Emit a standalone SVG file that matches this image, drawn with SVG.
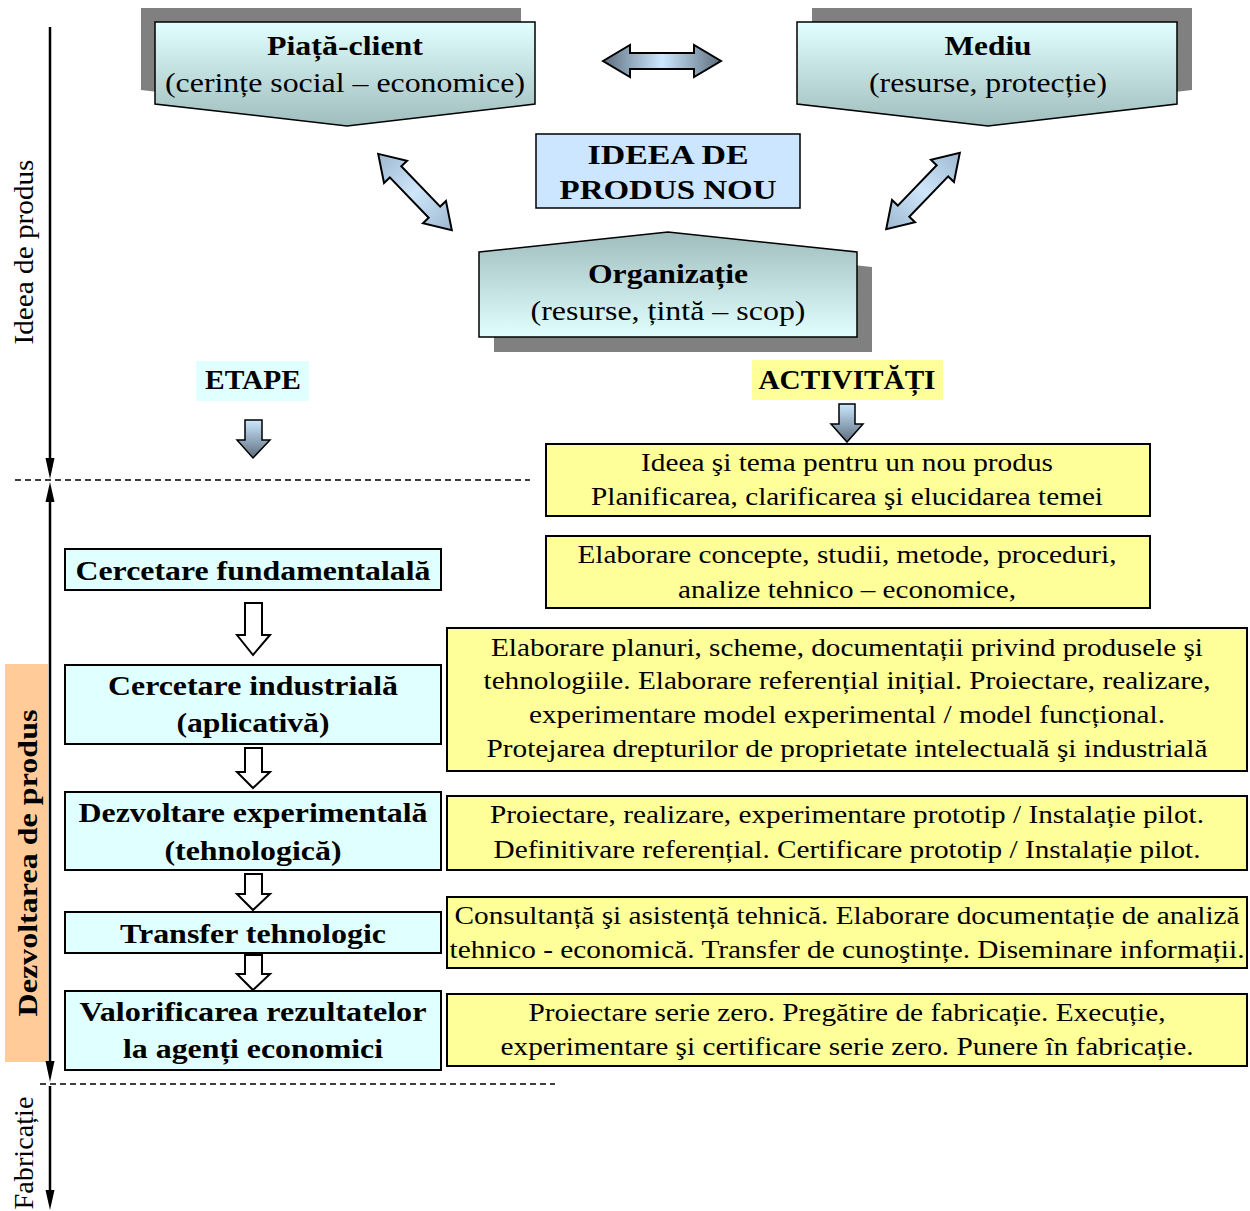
<svg xmlns="http://www.w3.org/2000/svg" width="1250" height="1211" viewBox="0 0 1250 1211">
<defs>
<linearGradient id="gTop" x1="0" y1="0" x2="0" y2="1"><stop offset="0" stop-color="#e2ffff"/><stop offset="1" stop-color="#9fbdbd"/></linearGradient>
<linearGradient id="gOrg" x1="0" y1="0" x2="0" y2="1"><stop offset="0" stop-color="#9fbdbd"/><stop offset="1" stop-color="#e2ffff"/></linearGradient>
<linearGradient id="gH" x1="0" y1="0" x2="1" y2="0"><stop offset="0" stop-color="#5d6e7e"/><stop offset="0.5" stop-color="#cce8ff"/><stop offset="1" stop-color="#5d6e7e"/></linearGradient>
<linearGradient id="gD" x1="0" y1="0" x2="1" y2="0"><stop offset="0" stop-color="#9cb8d0"/><stop offset="0.5" stop-color="#cfe6fa"/><stop offset="1" stop-color="#9cb8d0"/></linearGradient>
<linearGradient id="gV" x1="0" y1="0" x2="0" y2="1"><stop offset="0" stop-color="#cce8ff"/><stop offset="1" stop-color="#5d6e7e"/></linearGradient>
<polygon id="dbl" points="-59,0 -32,-16 -32,-8 32,-8 32,-16 59,0 32,16 32,8 -32,8 -32,16"/>
<polygon id="dblS" points="-53,0 -28,-16 -28,-8 28,-8 28,-16 53,0 28,16 28,8 -28,8 -28,16"/>
</defs>
<style>
text{font-family:"Liberation Serif",Tinos,"Times New Roman",Times,"Nimbus Roman","Nimbus Roman No9 L",FreeSerif,serif}
.b{font-weight:bold;font-size:28px;fill:#000;text-anchor:middle}
.r{font-size:28px;fill:#000;text-anchor:middle}
.y{font-size:25px;fill:#000;text-anchor:middle}
.ybox{fill:#ffff99;stroke:#000;stroke-width:2}
.cbox{fill:#e0ffff;stroke:#000;stroke-width:2}
.shadow{fill:#808080}
.ax{stroke:#000;stroke-width:2.5;fill:none}
.dash{stroke:#000;stroke-width:1.4;stroke-dasharray:6,4;fill:none}
.hollow{fill:#fff;stroke:#000;stroke-width:2}
.gstroke{stroke:#000;stroke-width:2}
</style>
<rect width="1250" height="1211" fill="#fff"/>

<g id="axis">
<rect x="5" y="664" width="43" height="398" fill="#ffcc99"/>
<line class="ax" x1="50" y1="27" x2="50" y2="462"/>
<polygon points="45.5,458 54.5,458 50,479" fill="#000"/>
<polygon points="45.5,502 54.5,502 50,482" fill="#000"/>
<line class="ax" x1="50" y1="500" x2="50" y2="1064"/>
<polygon points="45.5,1061 54.5,1061 50,1082" fill="#000"/>
<line class="ax" x1="50" y1="1086" x2="50" y2="1194"/>
<polygon points="45.5,1190 54.5,1190 50,1210" fill="#000"/>
<line class="dash" x1="15" y1="480" x2="530" y2="480"/>
<line class="dash" x1="40" y1="1084" x2="555" y2="1084"/>
<text class="r" transform="translate(33,252) rotate(-90)" font-size="26" textLength="185" lengthAdjust="spacingAndGlyphs">Ideea de produs</text>
<text class="b" transform="translate(37,863) rotate(-90)" textLength="307" lengthAdjust="spacingAndGlyphs">Dezvoltarea de produs</text>
<text class="r" transform="translate(33,1153) rotate(-90)" font-size="26" textLength="113" lengthAdjust="spacingAndGlyphs">Fabricație</text>
</g>

<g id="piata">
<path class="shadow" transform="translate(-14,-14)" d="M155,22 H535 V104 L347,126 L155,104 Z"/>
<path d="M155,22 H535 V104 L347,126 L155,104 Z" fill="url(#gTop)" stroke="#000" stroke-width="1.5"/>
<text class="b" x="345" y="55" textLength="156" lengthAdjust="spacingAndGlyphs">Piață-client</text>
<text class="r" x="345" y="92" textLength="360" lengthAdjust="spacingAndGlyphs">(cerințe social – economice)</text>
</g>

<g id="mediu">
<path class="shadow" transform="translate(15,-14)" d="M797,22 H1177 V104 L988,126 L797,104 Z"/>
<path d="M797,22 H1177 V104 L988,126 L797,104 Z" fill="url(#gTop)" stroke="#000" stroke-width="1.5"/>
<text class="b" x="988" y="55" textLength="87" lengthAdjust="spacingAndGlyphs">Mediu</text>
<text class="r" x="988" y="92" textLength="238" lengthAdjust="spacingAndGlyphs">(resurse, protecție)</text>
</g>

<g id="ideea">
<rect x="536" y="134" width="264" height="74" fill="#cce6ff" stroke="#000" stroke-width="1.5"/>
<text class="b" x="668" y="164" textLength="161" lengthAdjust="spacingAndGlyphs">IDEEA  DE</text>
<text class="b" x="668" y="199" textLength="217" lengthAdjust="spacingAndGlyphs">PRODUS  NOU</text>
</g>

<g id="organizatie">
<path class="shadow" transform="translate(15,15)" d="M479,252 L668,232 L857,252 V337 H479 Z"/>
<path d="M479,252 L668,232 L857,252 V337 H479 Z" fill="url(#gOrg)" stroke="#000" stroke-width="1.5"/>
<text class="b" x="668" y="283" textLength="160" lengthAdjust="spacingAndGlyphs">Organizație</text>
<text class="r" x="668" y="320" textLength="275" lengthAdjust="spacingAndGlyphs">(resurse, țintă – scop)</text>
</g>

<g id="etape">
<rect x="196" y="361" width="113" height="40" fill="#e0ffff"/>
<text class="b" x="253" y="389" font-size="26" textLength="96" lengthAdjust="spacingAndGlyphs">ETAPE</text>
</g>
<g id="activitati">
<rect x="752" y="360" width="191" height="40" fill="#ffff99"/>
<text class="b" x="847" y="389" font-size="26" textLength="177" lengthAdjust="spacingAndGlyphs">ACTIVITĂȚI</text>
</g>

<g id="a1"><rect class="ybox" x="546" y="444" width="604" height="72"/>
<text class="y" x="847" y="471" textLength="412" lengthAdjust="spacingAndGlyphs">Ideea şi tema pentru un nou produs</text>
<text class="y" x="847" y="505" textLength="512" lengthAdjust="spacingAndGlyphs">Planificarea, clarificarea şi elucidarea temei</text></g>
<g id="a2"><rect class="ybox" x="546" y="536" width="604" height="72"/>
<text class="y" x="847" y="563" textLength="539" lengthAdjust="spacingAndGlyphs">Elaborare concepte, studii, metode, proceduri,</text>
<text class="y" x="847" y="598" textLength="338" lengthAdjust="spacingAndGlyphs">analize tehnico – economice,</text></g>
<g id="a3"><rect class="ybox" x="447" y="628" width="800" height="143"/>
<text class="y" x="847" y="656" textLength="712" lengthAdjust="spacingAndGlyphs">Elaborare planuri, scheme, documentații privind produsele şi</text>
<text class="y" x="847" y="689" textLength="727" lengthAdjust="spacingAndGlyphs">tehnologiile. Elaborare referențial inițial. Proiectare, realizare,</text>
<text class="y" x="847" y="723" textLength="636" lengthAdjust="spacingAndGlyphs">experimentare model experimental / model funcțional.</text>
<text class="y" x="847" y="757" textLength="721" lengthAdjust="spacingAndGlyphs">Protejarea drepturilor de proprietate intelectuală şi industrială</text></g>
<g id="a4"><rect class="ybox" x="447" y="796" width="800" height="74"/>
<text class="y" x="847" y="823" textLength="714" lengthAdjust="spacingAndGlyphs">Proiectare, realizare, experimentare prototip / Instalație pilot.</text>
<text class="y" x="847" y="858" textLength="707" lengthAdjust="spacingAndGlyphs">Definitivare referențial. Certificare prototip / Instalație pilot.</text></g>
<g id="a5"><rect class="ybox" x="447" y="897" width="800" height="71"/>
<text class="y" x="847" y="924" textLength="785" lengthAdjust="spacingAndGlyphs">Consultanță şi asistență tehnică. Elaborare documentație de analiză</text>
<text class="y" x="847" y="958" textLength="795" lengthAdjust="spacingAndGlyphs">tehnico - economică. Transfer de cunoştințe. Diseminare informații.</text></g>
<g id="a6"><rect class="ybox" x="447" y="994" width="800" height="72"/>
<text class="y" x="847" y="1021" textLength="637" lengthAdjust="spacingAndGlyphs">Proiectare serie zero. Pregătire de fabricație. Execuție,</text>
<text class="y" x="847" y="1055" textLength="693" lengthAdjust="spacingAndGlyphs">experimentare şi certificare serie zero. Punere în fabricație.</text></g>

<g id="e1"><rect class="cbox" x="65" y="549" width="376" height="41"/>
<text class="b" x="253" y="580" textLength="355" lengthAdjust="spacingAndGlyphs">Cercetare fundamentalală</text></g>
<g id="e2"><rect class="cbox" x="65" y="665" width="376" height="79"/>
<text class="b" x="253" y="695" textLength="290" lengthAdjust="spacingAndGlyphs">Cercetare industrială</text>
<text class="b" x="253" y="732" textLength="153" lengthAdjust="spacingAndGlyphs">(aplicativă)</text></g>
<g id="e3"><rect class="cbox" x="65" y="792" width="376" height="78"/>
<text class="b" x="253" y="822" textLength="349" lengthAdjust="spacingAndGlyphs">Dezvoltare experimentală</text>
<text class="b" x="253" y="860" textLength="177" lengthAdjust="spacingAndGlyphs">(tehnologică)</text></g>
<g id="e4"><rect class="cbox" x="65" y="912" width="376" height="41"/>
<text class="b" x="253" y="943" textLength="266" lengthAdjust="spacingAndGlyphs">Transfer tehnologic</text></g>
<g id="e5"><rect class="cbox" x="65" y="991" width="376" height="79"/>
<text class="b" x="253" y="1021" textLength="347" lengthAdjust="spacingAndGlyphs">Valorificarea rezultatelor</text>
<text class="b" x="253" y="1058" textLength="260" lengthAdjust="spacingAndGlyphs">la agenți economici</text></g>

<g id="connectors">
<use href="#dbl" transform="translate(662,61)" fill="url(#gH)" class="gstroke"/>
<use href="#dblS" transform="translate(415,192) rotate(46)" fill="url(#gD)" class="gstroke"/>
<use href="#dblS" transform="translate(923,191) rotate(-46)" fill="url(#gD)" class="gstroke"/>
<polygon points="245,420 262,420 262,440 270,440 253,458 237,440 245,440" fill="url(#gV)" stroke="#000" stroke-width="1.5"/>
<polygon points="839,404 855,404 855,424 863,424 847,442 831,424 839,424" fill="url(#gV)" stroke="#000" stroke-width="1.5"/>
<polygon class="hollow" points="245,603 262,603 262,635 270,635 253,655 237,635 245,635"/>
<polygon class="hollow" points="245,748 262,748 262,772 270,772 253,788 237,772 245,772"/>
<polygon class="hollow" points="245,874 262,874 262,894 270,894 253,910 237,894 245,894"/>
<polygon class="hollow" points="245,955 262,955 262,974 270,974 253,990 237,974 245,974"/>
</g>
</svg>
